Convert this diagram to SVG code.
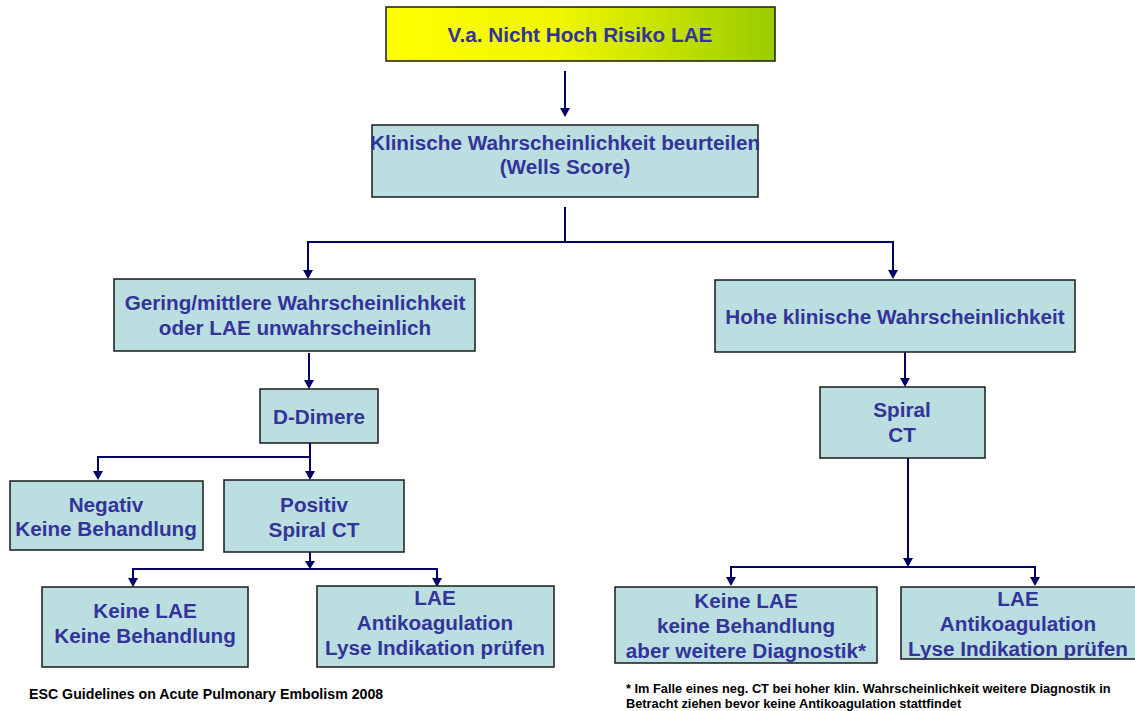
<svg xmlns="http://www.w3.org/2000/svg" width="1135" height="711" viewBox="0 0 1135 711">
  <defs>
    <linearGradient id="topFill" x1="0" y1="0" x2="1" y2="0">
      <stop offset="0" stop-color="#ffff00"/>
      <stop offset="0.45" stop-color="#eef600"/>
      <stop offset="1" stop-color="#99cc00"/>
    </linearGradient>
    <style>
      .box { fill: #bbdfe1; stroke: #1a1a1a; stroke-width: 1.5; }
      .lbl { font-family: "Liberation Sans", Arial, sans-serif; font-weight: bold; font-size: 20.7px; fill: #333399; text-anchor: middle; }
      .note { font-family: "Liberation Sans", Arial, sans-serif; font-weight: bold; font-size: 12.8px; fill: #000000; }
      .conn { fill: none; stroke: #000066; stroke-width: 2; }
      .head { fill: #000066; }
    </style>
  </defs>
  <rect width="1135" height="711" fill="#ffffff"/>

  <!-- connectors: lines plus filled arrowheads -->
  <g id="connectors">
    <line class="conn" x1="565" y1="71" x2="565" y2="110"/>
    <polygon class="head" points="560,108 570,108 565,117"/>

    <line class="conn" x1="565" y1="207" x2="565" y2="242"/>
    <polyline class="conn" points="308,272 308,242 893,242 893,272"/>
    <polygon class="head" points="303,270 313,270 308,279"/>
    <polygon class="head" points="888,270 898,270 893,279"/>

    <line class="conn" x1="309" y1="353" x2="309" y2="382"/>
    <polygon class="head" points="304,380 314,380 309,389"/>

    <line class="conn" x1="905" y1="352" x2="905" y2="380"/>
    <polygon class="head" points="900,378 910,378 905,387"/>

    <line class="conn" x1="310" y1="443" x2="310" y2="473"/>
    <polyline class="conn" points="98,473 98,457 310,457"/>
    <polygon class="head" points="93,471 103,471 98,480"/>
    <polygon class="head" points="305,471 315,471 310,480"/>

    <line class="conn" x1="310" y1="552" x2="310" y2="563"/>
    <polygon class="head" points="305,561 315,561 310,569"/>
    <polyline class="conn" points="133,580 133,569 437,569 437,580"/>
    <polygon class="head" points="128,578 138,578 133,587"/>
    <polygon class="head" points="432,578 442,578 437,587"/>

    <line class="conn" x1="908" y1="458" x2="908" y2="560"/>
    <polygon class="head" points="903,558 913,558 908,567"/>
    <polyline class="conn" points="731,579 731,567 1035,567 1035,579"/>
    <polygon class="head" points="726,577 736,577 731,586"/>
    <polygon class="head" points="1030,577 1040,577 1035,586"/>
  </g>

  <g id="start">
    <rect x="386" y="7" width="389" height="54" fill="url(#topFill)" stroke="#1a1a1a" stroke-width="1.5"/>
    <text class="lbl" x="580" y="42">V.a. Nicht Hoch Risiko LAE</text>
  </g>

  <g id="wells">
    <rect class="box" x="372" y="125" width="386" height="72"/>
    <text class="lbl" x="565" y="150">Klinische Wahrscheinlichkeit beurteilen</text>
    <text class="lbl" x="565" y="174">(Wells Score)</text>
  </g>

  <g id="low">
    <rect class="box" x="114" y="279" width="361" height="72"/>
    <text class="lbl" x="295" y="310">Gering/mittlere Wahrscheinlichkeit</text>
    <text class="lbl" x="295" y="335">oder LAE unwahrscheinlich</text>
  </g>

  <g id="high">
    <rect class="box" x="715" y="280" width="360" height="72"/>
    <text class="lbl" x="895" y="324">Hohe klinische Wahrscheinlichkeit</text>
  </g>

  <g id="ddimer">
    <rect class="box" x="260" y="389" width="118" height="54"/>
    <text class="lbl" x="319" y="424">D-Dimere</text>
  </g>

  <g id="spiral-high">
    <rect class="box" x="820" y="387" width="165" height="71"/>
    <text class="lbl" x="902" y="417">Spiral</text>
    <text class="lbl" x="902" y="442">CT</text>
  </g>

  <g id="negative">
    <rect class="box" x="10" y="481" width="193" height="69"/>
    <text class="lbl" x="106" y="512">Negativ</text>
    <text class="lbl" x="106" y="536">Keine Behandlung</text>
  </g>

  <g id="positive">
    <rect class="box" x="224" y="480" width="180" height="72"/>
    <text class="lbl" x="314" y="512">Positiv</text>
    <text class="lbl" x="314" y="537">Spiral CT</text>
  </g>

  <g id="no-pe-left">
    <rect class="box" x="42" y="587" width="206" height="80"/>
    <text class="lbl" x="145" y="618">Keine LAE</text>
    <text class="lbl" x="145" y="643">Keine Behandlung</text>
  </g>

  <g id="pe-left">
    <rect class="box" x="317" y="586" width="237" height="81"/>
    <text class="lbl" x="435" y="605">LAE</text>
    <text class="lbl" x="435" y="630">Antikoagulation</text>
    <text class="lbl" x="435" y="655">Lyse Indikation prüfen</text>
  </g>

  <g id="no-pe-right">
    <rect class="box" x="615" y="587" width="262" height="76"/>
    <text class="lbl" x="746" y="608">Keine LAE</text>
    <text class="lbl" x="746" y="633">keine Behandlung</text>
    <text class="lbl" x="746" y="658">aber weitere Diagnostik*</text>
  </g>

  <g id="pe-right">
    <rect class="box" x="901" y="587" width="240" height="72"/>
    <text class="lbl" x="1018" y="606">LAE</text>
    <text class="lbl" x="1018" y="631">Antikoagulation</text>
    <text class="lbl" x="1018" y="656">Lyse Indikation prüfen</text>
  </g>

  <g id="notes">
    <text class="note" x="29" y="699" style="font-size:14.2px">ESC Guidelines on Acute Pulmonary Embolism 2008</text>
    <text class="note" x="626" y="693">* Im Falle eines neg. CT bei hoher klin. Wahrscheinlichkeit weitere Diagnostik in</text>
    <text class="note" x="626" y="708">Betracht ziehen bevor keine Antikoagulation stattfindet</text>
  </g>
</svg>
